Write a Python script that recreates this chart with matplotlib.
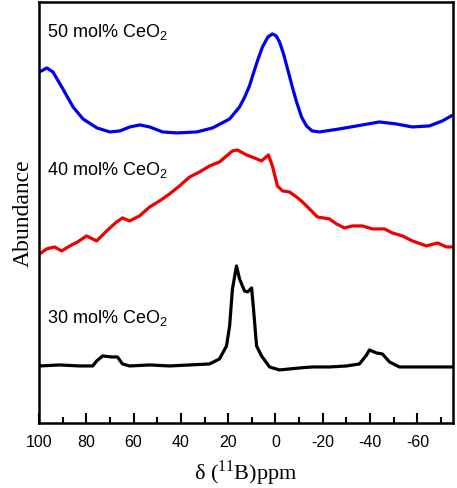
import numpy as np
from matplotlib import pyplot as plt
from matplotlib.ticker import MultipleLocator

plt.rcParams['axes.unicode_minus'] = False
plt.rcParams['mathtext.fontset'] = 'custom'
plt.rcParams['mathtext.rm'] = 'Liberation Serif'

# 11B MAS NMR spectra (ppm, stacked abundance)
ppm_50 = [99.7, 96.7, 94.1, 89.9, 85.6, 81.4, 75.5, 70.0, 65.8, 61.6, 57.4,
          53.2, 47.7, 41.8, 33.3, 26.6, 19.4, 15.2, 13.0, 11.0, 9.7, 7.5,
          5.5, 3.2, 1.3, -0.3, -1.7, -3.4, -5.1, -7.0, -8.9, -11.0, -13.1,
          -15.5, -18.6, -27.0, -36.7, -43.9, -51.0, -57.8, -65.0, -70.5,
          -74.3]
ab_50 = [351, 355, 351, 334, 316, 304, 295, 291, 292, 296, 298,
         296, 291, 290, 291, 295, 304, 316, 326, 337, 347, 363,
         376, 386, 389, 387, 381, 369, 354, 337, 321, 306, 297,
         292, 291, 294, 298, 301, 299, 296, 297, 302,
         307]

ppm_40 = [99.7, 96.8, 93.4, 90.4, 87.0, 83.7, 79.9, 75.6, 71.4, 67.2, 64.7,
          61.7, 57.5, 53.2, 49.0, 44.8, 40.6, 36.3, 32.1, 27.9, 23.7, 20.7,
          18.2, 16.1, 12.3, 8.9, 5.9, 3.0, 1.3, -0.8, -3.0, -5.9, -8.9,
          -11.4, -14.4, -17.7, -22.8, -25.8, -29.2, -32.5, -36.8, -41.0,
          -46.1, -49.4, -53.7, -57.9, -63.8, -68.5, -72.3, -74.4]
ab_40 = [169, 174, 176, 172, 177, 181, 187, 182, 192, 201, 205,
         202, 207, 216, 222, 229, 237, 246, 251, 257, 261, 267,
         272, 273, 268, 265, 262, 268, 257, 237, 232, 231, 226,
         221, 214, 206, 204, 199, 195, 197, 197, 194,
         194, 190, 187, 182, 177, 180, 176, 176]

ppm_30 = [99.7, 91.3, 82.8, 77.3, 75.6, 73.1, 69.3, 66.8, 64.7, 61.7, 53.2,
          44.8, 36.3, 27.9, 23.7, 20.7, 19.4, 18.2, 16.5, 15.2, 13.1, 11.8,
          10.1, 9.3, 8.0, 5.9, 2.5, -1.7, -10.1, -15.6, -22.8, -30.0, -35.5,
          -38.5, -39.7, -42.7, -45.2, -48.2, -52.4, -58.7, -65.1, -74.4]
ab_30 = [57, 58, 57, 57, 62, 67, 66, 66, 59, 57, 58,
         57, 58, 59, 64, 77, 97, 134, 157, 144, 132, 131,
         135, 114, 77, 67, 56, 53, 55, 56, 56, 57, 59,
         68, 73, 70, 69, 61, 56, 56, 56, 56]

labels = ['50 mol% CeO$_\\mathregular{2}$', '40 mol% CeO$_\\mathregular{2}$',
          '30 mol% CeO$_\\mathregular{2}$']
label_y = [392, 254, 106]


fig = plt.figure(figsize=(4.57, 4.89), dpi=100)
ax = fig.add_axes([0.0853, 0.133, 0.9057, 0.861])

ax.plot(ppm_50, ab_50, '-', color='#0000ee', lw=2.3, solid_joinstyle='round')
ax.plot(ppm_40, ab_40, '-', color='#ee0000', lw=2.3, solid_joinstyle='round')
ax.plot(ppm_30, ab_30, '-', color='black', lw=2.3, solid_joinstyle='round')

for lab, yy in zip(labels, label_y):
    ax.text(96.5, yy, lab, fontsize=13, family='Liberation Sans',
            va='center', ha='left')

ax.set_xlim(100, -75)
ax.set_ylim(0, 421)

ax.xaxis.set_major_locator(MultipleLocator(20))
ax.xaxis.set_minor_locator(MultipleLocator(10))
ax.tick_params(axis='x', which='major', direction='in', length=7, width=1.5,
               labelsize=11.5, pad=8)
ax.tick_params(axis='x', which='minor', direction='in', length=4, width=1.5)
ax.set_yticks([])
for lab in ax.get_xticklabels():
    lab.set_family('Liberation Sans')
for sp in ax.spines.values():
    sp.set_linewidth(1.8)

ax.set_xlabel('\u03b4 ($^{\\mathregular{11}}$B)ppm', family='Liberation Serif',
              fontsize=16, labelpad=6)
ax.set_ylabel('Abundance', family='Liberation Serif', fontsize=17, labelpad=4)

plt.savefig('out.png', dpi=100)
